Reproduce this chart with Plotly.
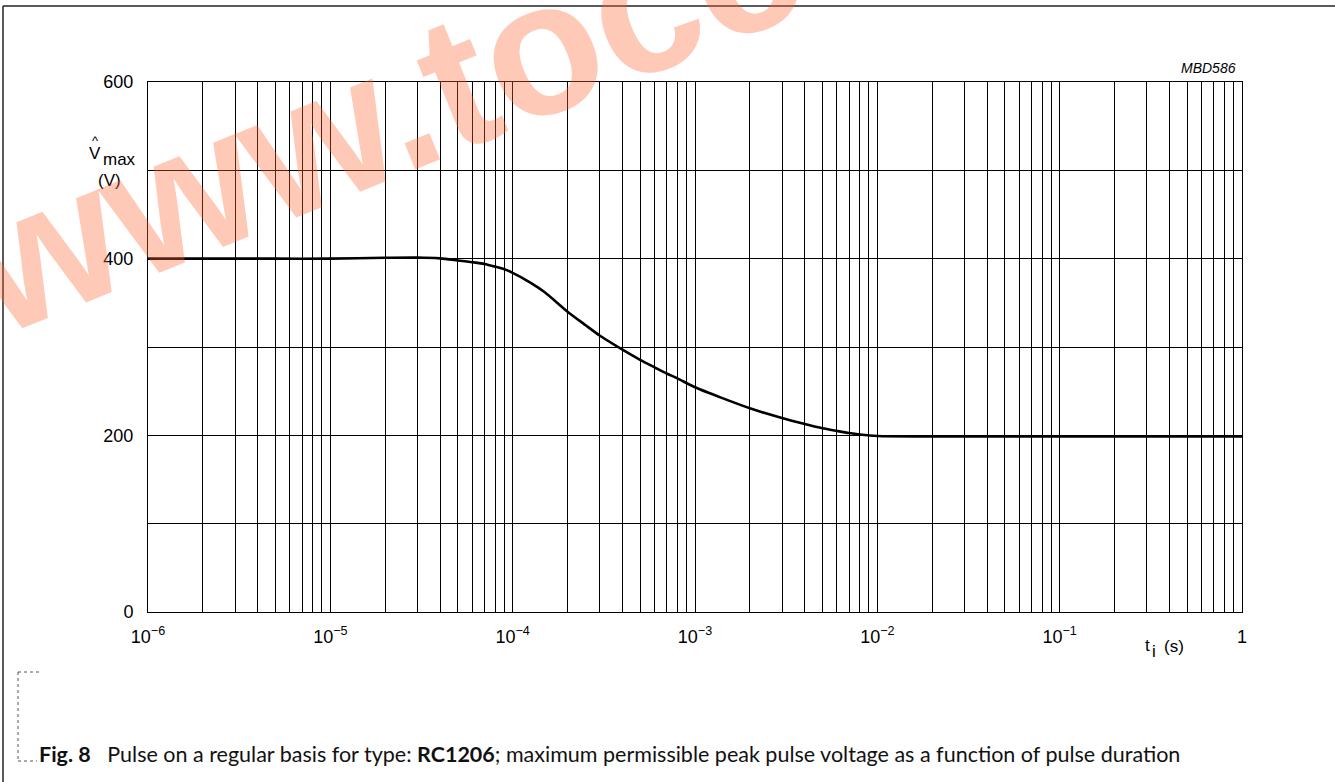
import plotly.graph_objects as go

# ---- data ----
pulse_duration_s = [1e-6, 2e-6, 5e-6, 1e-5, 2e-5, 3e-5, 4e-5, 5e-5, 6e-5, 7e-5, 8e-5, 9e-5,
                    1e-4, 1.25e-4, 1.5e-4, 2e-4, 2.5e-4, 3e-4, 4e-4, 5e-4, 6e-4, 7e-4, 8e-4, 1e-3,
                    2e-3, 3e-3, 4e-3, 5e-3, 6e-3, 7e-3, 8e-3, 1e-2, 2e-2, 5e-2,
                    1e-1, 2e-1, 5e-1, 1.0]
v_max = [400, 400, 400, 400, 401, 401.3, 400.3, 398, 396, 394, 391, 388,
         384, 373, 362, 340, 325, 313, 297, 285.5, 277, 270, 264.5, 254.4,
         230.6, 219.6, 212.8, 208, 205, 202.6, 201, 199.3, 198.8, 198.8,
         198.8, 198.8, 198.8, 198.8]

x_major_vals = [1e-6, 1e-5, 1e-4, 1e-3, 1e-2, 1e-1, 1]
x_major_text = ["10<sup>\u22126</sup>", "10<sup>\u22125</sup>", "10<sup>\u22124</sup>",
                "10<sup>\u22123</sup>", "10<sup>\u22122</sup>", "10<sup>\u22121</sup>", "1"]
x_minor_vals = [m * d for d in [1e-6, 1e-5, 1e-4, 1e-3, 1e-2, 1e-1] for m in range(2, 10)]
y_vals = [0, 100, 200, 300, 400, 500, 600]
y_text = ["0", "", "200", "", "400", "", "600"]

W, H = 1335, 782
L, R, T, B = 148, 1242, 82, 612   # plot area in pixels


def px(X):
    return (X - L) / (R - L)


def py(Y):
    return (B - Y) / (B - T)


FONT = "Liberation Sans, Arial, Helvetica, sans-serif"

fig = go.Figure()
fig.add_trace(go.Scatter(
    x=pulse_duration_s, y=v_max, mode="lines",
    line=dict(color="black", width=2.6, shape="spline", smoothing=0.7),
    hoverinfo="skip", showlegend=False))

fig.update_layout(
    width=W, height=H,
    margin=dict(l=L, r=W - R, t=T, b=H - B, pad=0),
    paper_bgcolor="white", plot_bgcolor="white",
    font=dict(family=FONT, size=18, color="black"),
    showlegend=False,
)

fig.update_xaxes(
    type="log", range=[-6, 0],
    tickmode="array", tickvals=x_major_vals, ticktext=x_major_text,
    showgrid=True, gridcolor="black", gridwidth=1,
    minor=dict(tickmode="array", tickvals=x_minor_vals, showgrid=True,
               gridcolor="black", gridwidth=1),
    showline=True, mirror=True, linecolor="black", linewidth=1,
    ticks="", ticklabelstandoff=8, zeroline=False,
    tickfont=dict(family=FONT, size=18, color="black"),
)
fig.update_yaxes(
    range=[0, 600], tickmode="array", tickvals=y_vals, ticktext=y_text,
    showgrid=True, gridcolor="black", gridwidth=1,
    showline=True, mirror=True, linecolor="black", linewidth=1,
    ticks="", ticklabelstandoff=10, zeroline=False,
    tickfont=dict(family=FONT, size=18, color="black"),
)


def label(X, Y, text, size=17, anchor="center", family=FONT, color="black", **kw):
    return dict(x=px(X), y=py(Y), xref="paper", yref="paper", xanchor=anchor, yanchor="middle",
                text=text, showarrow=False, font=dict(family=family, size=size, color=color), **kw)


ann = [
    # y-axis title: V-hat max (V)
    label(95, 153, "V", 17),
    label(95, 140, "^", 13),
    label(119, 159, "max", 17),
    label(109, 181, "(V)", 17),
    # x-axis title: t_i (s)
    label(1147, 645, "t", 17),
    label(1154, 651, "i", 17),
    label(1174, 646, "(s)", 17),
    # figure code
    label(1238, 68, "<i>MBD586</i>", 14, anchor="right"),
    # caption
    label(37, 754, "<b>Fig. 8</b>&nbsp;&nbsp;&nbsp;Pulse on a regular basis for type: <b>RC1206</b>; "
                   "maximum permissible peak pulse voltage as a function of pulse duration",
          21.5, anchor="left", family="Lato, Open Sans, sans-serif", color="#111"),
    # watermark
    label(381, 112, "<b>www.tocc</b>", 190, family=FONT, color="rgba(255,100,50,0.35)", textangle=-22),
]
fig.update_layout(annotations=ann)

shapes = []
# frame lines
shapes.append(dict(type="line", xref="paper", yref="paper", x0=px(3), x1=px(1335), y0=py(6), y1=py(6),
                   line=dict(color="#222", width=1.5)))
shapes.append(dict(type="line", xref="paper", yref="paper", x0=px(3), x1=px(3), y0=py(6), y1=py(782),
                   line=dict(color="#222", width=1.5)))
# dotted caption bracket
for (x0, y0, x1, y1) in [(18, 672, 40, 672), (18, 672, 18, 761), (18, 761, 37, 761)]:
    shapes.append(dict(type="line", xref="paper", yref="paper", x0=px(x0), x1=px(x1), y0=py(y0), y1=py(y1),
                       line=dict(color="#555", width=1, dash="dot")))
fig.update_layout(shapes=shapes)

fig.write_html("out.html", config={"displayModeBar": False},
               post_script="document.body.style.margin='0';")
